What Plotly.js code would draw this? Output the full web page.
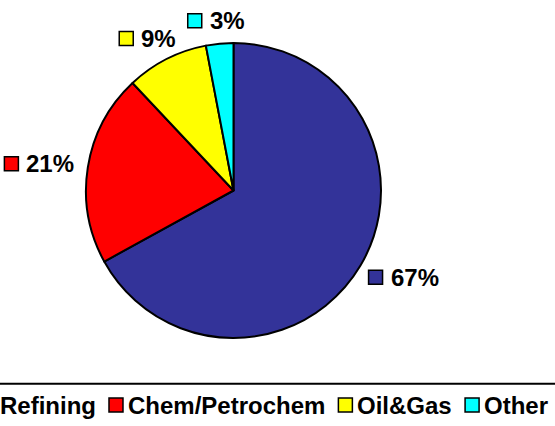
<!DOCTYPE html>
<html><head><meta charset="utf-8">
<script src="https://cdn.plot.ly/plotly-3.0.1.min.js"></script>
<style>html,body{margin:0;padding:0;background:#fff}#chart{width:555px;height:426px}</style>
</head><body><div id="chart"></div>
<script>
const categories = ['Refining', 'Chem/Petrochem', 'Oil&Gas', 'Other'];
const shares = [67, 21, 9, 3];
const colors = ['#333399', '#FF0000', '#FFFF00', '#00FFFF'];

const W = 555, H = 426;
const FONT = "'Liberation Sans', Arial, Helvetica, sans-serif";
const FS = 24;
const cx = 233.5, cy = 190.5, R = 147.5;
const SQ = 14;
const px2x = p => p / W, py2y = p => 1 - p / H;
const ctx = document.createElement('canvas').getContext('2d');
ctx.font = 'bold ' + FS + 'px ' + FONT;
const tw = s => ctx.measureText(s).width;

const annotations = [];
const shapes = [];
function square(left, midY, color) {
  shapes.push({type: 'rect', xref: 'paper', yref: 'paper',
    x0: px2x(left), x1: px2x(left + SQ), y0: py2y(midY + SQ / 2), y1: py2y(midY - SQ / 2),
    fillcolor: color, line: {color: '#000', width: 1.5}, layer: 'above'});
}
function label(left, midY, txt) {
  annotations.push({xref: 'paper', yref: 'paper', x: px2x(left), y: py2y(midY),
    xanchor: 'left', yanchor: 'middle', showarrow: false, borderpad: 0,
    text: '<b>' + txt + '</b>', font: {family: FONT, size: FS, color: '#000'}});
}

// slice labels: placed just outside the rim at each slice's mid angle,
// box aligned continuously with the direction of the mid angle
const total = shares.reduce((a, b) => a + b, 0);
let cum = 0;
shares.forEach((v, i) => {
  const mid = (cum + v / 2) / total * 2 * Math.PI;
  cum += v;
  const txt = Math.round(v / total * 100) + '%';
  const gapST = 7;
  const bw = SQ + gapST + tw(txt), bh = 16;
  const dx = Math.sin(mid), dy = -Math.cos(mid);
  const d = R + 15;
  const ccx = cx + d * dx + dx * bw / 2, ccy = cy + d * dy + dy * bh / 2;
  const left = ccx - bw / 2;
  square(left, ccy, colors[i]);
  label(left + SQ + gapST, ccy, txt);
});

// legend row
const legY = 405;
let x = -1 - 4 - SQ;
categories.forEach((c, i) => {
  square(x, legY, colors[i]);
  label(x + SQ + 4, legY, c);
  x += SQ + 4 + tw(c) + 14;
});

// separator line above legend
shapes.push({type: 'line', xref: 'paper', yref: 'paper', x0: 0, x1: 1,
  y0: py2y(383.7), y1: py2y(383.7), line: {color: '#000', width: 2}});

const trace = {
  type: 'pie', labels: categories, values: shares, sort: false,
  direction: 'clockwise', rotation: 0, textinfo: 'none', hoverinfo: 'none',
  showlegend: false,
  marker: {colors: colors, line: {color: '#000', width: 2}},
  domain: {x: [px2x(cx - R), px2x(cx + R)], y: [py2y(cy + R), py2y(cy - R)]}
};

Plotly.newPlot('chart', [trace], {
  width: W, height: H, margin: {l: 0, r: 0, t: 0, b: 0},
  paper_bgcolor: '#fff', plot_bgcolor: '#fff', showlegend: false,
  annotations: annotations, shapes: shapes
}, {staticPlot: true});
</script></body></html>
